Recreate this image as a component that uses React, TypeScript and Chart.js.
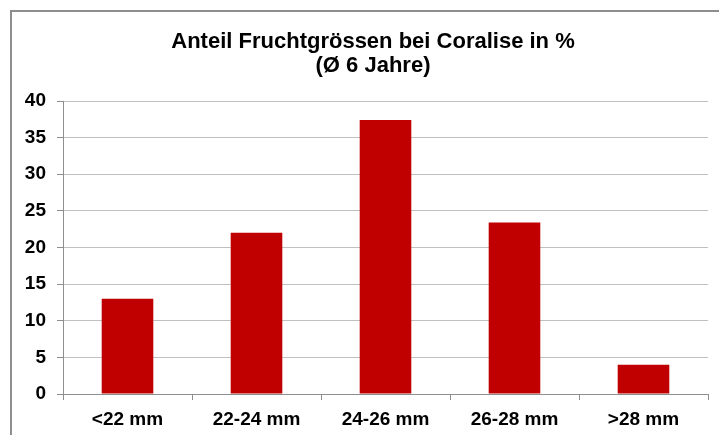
import React, { useEffect, useRef } from "react";
import { Chart, registerables } from "chart.js";

Chart.register(...registerables);

const categories = ["<22 mm", "22-24 mm", "24-26 mm", "26-28 mm", ">28 mm"];
const shares = [13, 22, 37.4, 23.4, 4];
const titleLines = ["Anteil Fruchtgrössen bei Coralise in %", "(Ø 6 Jahre)"];
const yMin = 0;
const yMax = 40;
const yStep = 5;

const FONT = "'Liberation Sans', Arial, sans-serif";

const framePlugin = {
  id: "frame",
  beforeDraw(chart: any) {
    const ctx = chart.ctx;
    ctx.save();
    ctx.fillStyle = "#ffffff";
    ctx.fillRect(0, 0, chart.width, chart.height);
    ctx.strokeStyle = "#8e8e8e";
    ctx.lineWidth = 2;
    ctx.strokeRect(11, 11, chart.width + 40, chart.height + 40);
    ctx.restore();
  },
  afterDraw(chart: any) {
    const ctx = chart.ctx;
    ctx.save();
    ctx.fillStyle = "#000000";
    ctx.font = `bold 22px ${FONT}`;
    ctx.textAlign = "center";
    ctx.textBaseline = "alphabetic";
    ctx.fillText(titleLines[0], 373, 48);
    ctx.fillText(titleLines[1], 373, 72);
    ctx.restore();
  },
};

export default function App() {
  const ref = useRef<HTMLCanvasElement | null>(null);
  useEffect(() => {
    document.body.style.margin = "0";
    const canvas = ref.current;
    if (!canvas) return;
    const chart = new Chart(canvas, {
      type: "bar",
      data: {
        labels: categories,
        datasets: [
          {
            data: shares,
            backgroundColor: "#C00000",
            borderWidth: 0,
            barPercentage: 0.4,
            categoryPercentage: 1,
          },
        ],
      },
      options: {
        responsive: false,
        animation: false,
        layout: { padding: { top: 101, right: 11, bottom: 0, left: 0 } },
        plugins: {
          legend: { display: false },
          title: { display: false },
          tooltip: { enabled: false },
        },
        scales: {
          x: {
            grid: {
              offset: true,
              drawOnChartArea: false,
              drawTicks: true,
              tickLength: 6,
              tickColor: "#8e8e8e",
              color: "#8e8e8e",
            },
            border: { color: "#8e8e8e", width: 1 },
            ticks: {
              color: "#000000",
              font: { family: FONT, size: 19, weight: "bold" },
              padding: 8,
              maxRotation: 0,
              autoSkip: false,
            },
            afterFit(scale: any) {
              scale.height = 41;
            },
          },
          y: {
            min: yMin,
            max: yMax,
            grid: {
              color: "#c0c0c0",
              tickColor: "#8e8e8e",
              tickLength: 6,
            },
            border: { color: "#8e8e8e", width: 1 },
            ticks: {
              stepSize: yStep,
              color: "#000000",
              font: { family: FONT, size: 19, weight: "bold" },
              padding: 11,
            },
            afterFit(scale: any) {
              scale.width = 63;
            },
          },
        },
      },
      plugins: [framePlugin],
    });
    return () => chart.destroy();
  }, []);
  return (
    <div style={{ width: 719, height: 435 }}>
      <canvas ref={ref} width={719} height={435} />
    </div>
  );
}
